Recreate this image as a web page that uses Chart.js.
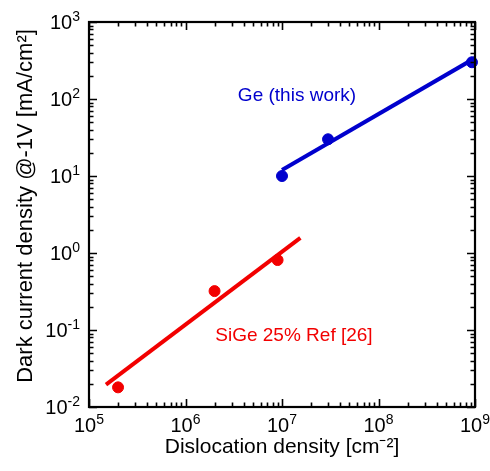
<!DOCTYPE html>
<html><head><meta charset="utf-8">
<script src="https://cdn.jsdelivr.net/npm/chart.js@4/dist/chart.umd.min.js"></script>
<style>html,body{margin:0;padding:0;background:#fff;}#wrap{width:490px;height:471px;}</style>
</head><body><div id="wrap"><canvas id="c" width="490" height="471"></canvas></div>
<script>
// ---- data ----
const xTickValues = [1e5, 1e6, 1e7, 1e8, 1e9];
const xTickExponents = ['5', '6', '7', '8', '9'];
const yTickValues = [1e-2, 1e-1, 1e0, 1e1, 1e2, 1e3];
const yTickExponents = ['-2', '-1', '0', '1', '2', '3'];

const geX = [1e7, 3e7, 9.3e8];
const geY = [10, 30, 300];
const geFitX = [1e7, 1e9];
const geFitY = [12, 340];

const sigeX = [2e5, 2e6, 9e6];
const sigeY = [0.018, 0.32, 0.81];
const sigeFitX = [1.5e5, 1.55e7];
const sigeFitY = [0.0195, 1.57];

const xTitle = 'Dislocation density [cm\u207B\u00B2]';
const yTitle = 'Dark current density @-1V [mA/cm\u00B2]';
const geLabel = 'Ge (this work)';
const sigeLabel = 'SiGe 25% Ref [26]';

// ---- styling ----
const FONT = "'Liberation Sans', Arial, Helvetica, sans-serif";
const BLUE = '#0000cd';
const RED = '#f20000';

const pts = (xs, ys) => xs.map((x, i) => ({x: x, y: ys[i]}));

function drawPower(ctx, exp, x, baseline, align) {
  ctx.font = '20px ' + FONT;
  const wb = ctx.measureText('10').width;
  ctx.font = '14px ' + FONT;
  const we = ctx.measureText(exp).width;
  const total = wb + we;
  let left = align === 'right' ? x - total : x - total / 2;
  ctx.textAlign = 'left';
  ctx.textBaseline = 'alphabetic';
  ctx.font = '20px ' + FONT;
  ctx.fillText('10', left, baseline);
  ctx.font = '14px ' + FONT;
  ctx.fillText(exp, left + wb, baseline - 8);
}

const decorPlugin = {
  id: 'decor',
  afterLayout(chart) {
    // shift y title centre slightly upward like the reference
    chart.scales.y.top = chart.chartArea.top - 17;
  },
  afterDatasetsDraw(chart) {
    const {ctx, chartArea: a, scales} = chart;
    const xs = scales.x, ys = scales.y;
    ctx.save();
    ctx.strokeStyle = '#000';
    // inner ticks
    ctx.lineWidth = 1.6;
    const MAJ = 8, MIN = 4.5;
    const decadeTicks = (lo, hi) => {
      const out = [];
      for (let e = Math.round(Math.log10(lo)); e < Math.round(Math.log10(hi)); e++) {
        for (let m = 1; m <= 9; m++) out.push({v: m * Math.pow(10, e), major: m === 1});
      }
      out.push({v: hi, major: true});
      return out;
    };
    ctx.beginPath();
    decadeTicks(xs.min, xs.max).forEach(t => {
      const px = Math.round(xs.getPixelForValue(t.v)) + 0.5;
      const L = t.major ? MAJ : MIN;
      ctx.moveTo(px, a.bottom); ctx.lineTo(px, a.bottom - L);
      ctx.moveTo(px, a.top); ctx.lineTo(px, a.top + L);
    });
    decadeTicks(ys.min, ys.max).forEach(t => {
      const py = Math.round(ys.getPixelForValue(t.v)) + 0.5;
      const L = t.major ? MAJ : MIN;
      ctx.moveTo(a.left, py); ctx.lineTo(a.left + L, py);
      ctx.moveTo(a.right, py); ctx.lineTo(a.right - L, py);
    });
    ctx.stroke();
    // frame
    ctx.lineWidth = 2.2;
    ctx.strokeRect(a.left, a.top, a.right - a.left, a.bottom - a.top);
    // tick labels (10 with superscript exponent)
    ctx.fillStyle = '#000';
    xTickValues.forEach((v, i) => {
      drawPower(ctx, xTickExponents[i], xs.getPixelForValue(v), a.bottom + 25, 'center');
    });
    yTickValues.forEach((v, i) => {
      drawPower(ctx, yTickExponents[i], a.left - 9, ys.getPixelForValue(v) + 7, 'right');
    });
    // annotations
    ctx.font = '19px ' + FONT;
    ctx.textAlign = 'center';
    ctx.textBaseline = 'middle';
    ctx.fillStyle = BLUE;
    ctx.fillText(geLabel, xs.getPixelForValue(1.43e7), ys.getPixelForValue(110));
    ctx.fillStyle = RED;
    ctx.fillText(sigeLabel, xs.getPixelForValue(1.33e7), ys.getPixelForValue(0.085));
    ctx.restore();
  }
};

new Chart(document.getElementById('c'), {
  type: 'scatter',
  data: {
    datasets: [
      {label: 'Ge', data: pts(geX, geY), backgroundColor: BLUE, borderColor: BLUE,
       pointRadius: 5.5, pointHoverRadius: 5.5, showLine: false, clip: false},
      {label: 'SiGe', data: pts(sigeX, sigeY), backgroundColor: RED, borderColor: RED,
       pointRadius: 5.5, pointHoverRadius: 5.5, showLine: false, clip: false},
      {label: 'Ge fit', data: pts(geFitX, geFitY), borderColor: BLUE, backgroundColor: BLUE,
       showLine: true, borderWidth: 4, pointRadius: 0, borderCapStyle: 'butt'},
      {label: 'SiGe fit', data: pts(sigeFitX, sigeFitY), borderColor: RED, backgroundColor: RED,
       showLine: true, borderWidth: 4, pointRadius: 0, borderCapStyle: 'butt'}
    ]
  },
  options: {
    responsive: false,
    animation: false,
    devicePixelRatio: 1,
    layout: {padding: {left: 0, top: 22, right: 15, bottom: 0}},
    plugins: {legend: {display: false}, tooltip: {enabled: false}},
    scales: {
      x: {
        type: 'logarithmic', position: 'bottom', min: 1e5, max: 1e9,
        grid: {display: false, drawTicks: false}, border: {display: false},
        afterBuildTicks: s => { s.ticks = xTickValues.map(v => ({value: v})); },
        afterFit: s => { s.height = 64; s.paddingLeft = 0; s.paddingRight = 0; },
        ticks: {display: false},
        title: {display: true, text: xTitle, color: '#000',
                font: {family: FONT, size: 21}, padding: {top: 0, bottom: 11}}
      },
      y: {
        type: 'logarithmic', position: 'left', min: 1e-2, max: 1e3,
        grid: {display: false, drawTicks: false}, border: {display: false},
        afterBuildTicks: s => { s.ticks = yTickValues.map(v => ({value: v})); },
        afterFit: s => { s.width = 89; s.paddingTop = 0; s.paddingBottom = 0; },
        ticks: {display: false},
        title: {display: true, text: yTitle, color: '#000',
                font: {family: FONT, size: 22}, padding: {top: 13, bottom: 0}}
      }
    }
  },
  plugins: [decorPlugin]
});
</script>
</body></html>
